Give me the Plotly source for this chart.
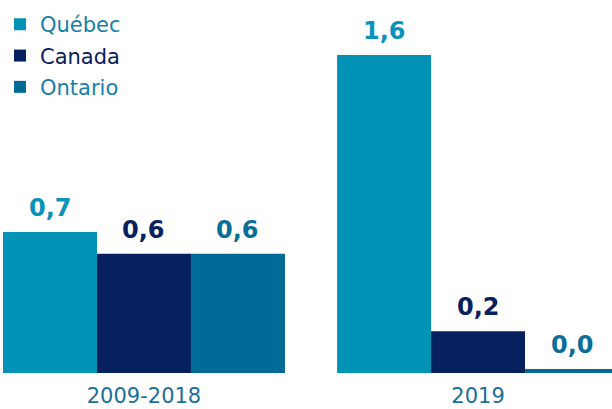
import plotly.graph_objects as go

categories = ["2009-2018", "2019"]
series_names = ["Québec", "Canada", "Ontario"]
quebec = [0.71, 1.6]
canada = [0.6, 0.21]
ontario = [0.6, 0.02]

bar_colors = ["#0093b6", "#07205e", "#006b96"]
label_colors = ["#0a93b8", "#07205e", "#0b6e98"]
legend_text_colors = ["#1680a8", "#07205e", "#1680a8"]
tick_color = "#1a6f98"

FONT = "DejaVu Sans"
bargap = 0.156
values = [quebec, canada, ontario]

fig = go.Figure()
for k, (name, vals, col, lcol) in enumerate(zip(series_names, values, bar_colors, legend_text_colors)):
    fig.add_trace(go.Bar(
        x=categories, y=vals, marker=dict(color=col, line=dict(width=0)),
        name=f'<span style="color:{lcol}">{name}</span>', legendgroup=f"g{k}",
    ))

w = (1 - bargap) / 3
annotations = []
for j, (vals, lc) in enumerate(zip(values, label_colors)):
    for i, v in enumerate(vals):
        annotations.append(dict(
            x=i + (j - 1) * w, y=v, xref="x", yref="y",
            text=f"{v:.1f}".replace(".", ","),
            showarrow=False, yanchor="bottom", yshift=8,
            font=dict(family=FONT, size=24, color=lc, weight="bold"),
        ))

fig.update_layout(
    width=612, height=409,
    margin=dict(l=0, r=0, t=0, b=36, autoexpand=False),
    paper_bgcolor="white", plot_bgcolor="white",
    barmode="group", bargap=bargap, bargroupgap=0,
    font=dict(family=FONT),
    showlegend=True,
    legend=dict(x=0, y=0.989, xanchor="left", yanchor="top",
                font=dict(family=FONT, size=21, color=tick_color),
                bgcolor="rgba(0,0,0,0)", traceorder="grouped", tracegroupgap=1),
    annotations=annotations,
)
fig.update_xaxes(type="category", range=[-0.431, 1.401], showgrid=False, showline=False,
                 zeroline=False, ticks="", ticklabelstandoff=8,
                 tickfont=dict(family=FONT, size=21, color=tick_color))
fig.update_yaxes(range=[0, 373 / 198.75], visible=False, showgrid=False, zeroline=False)

fig.write_html("out.html", config={"displayModeBar": False},
               post_script="document.body.style.margin='0';document.body.style.overflow='hidden';")
